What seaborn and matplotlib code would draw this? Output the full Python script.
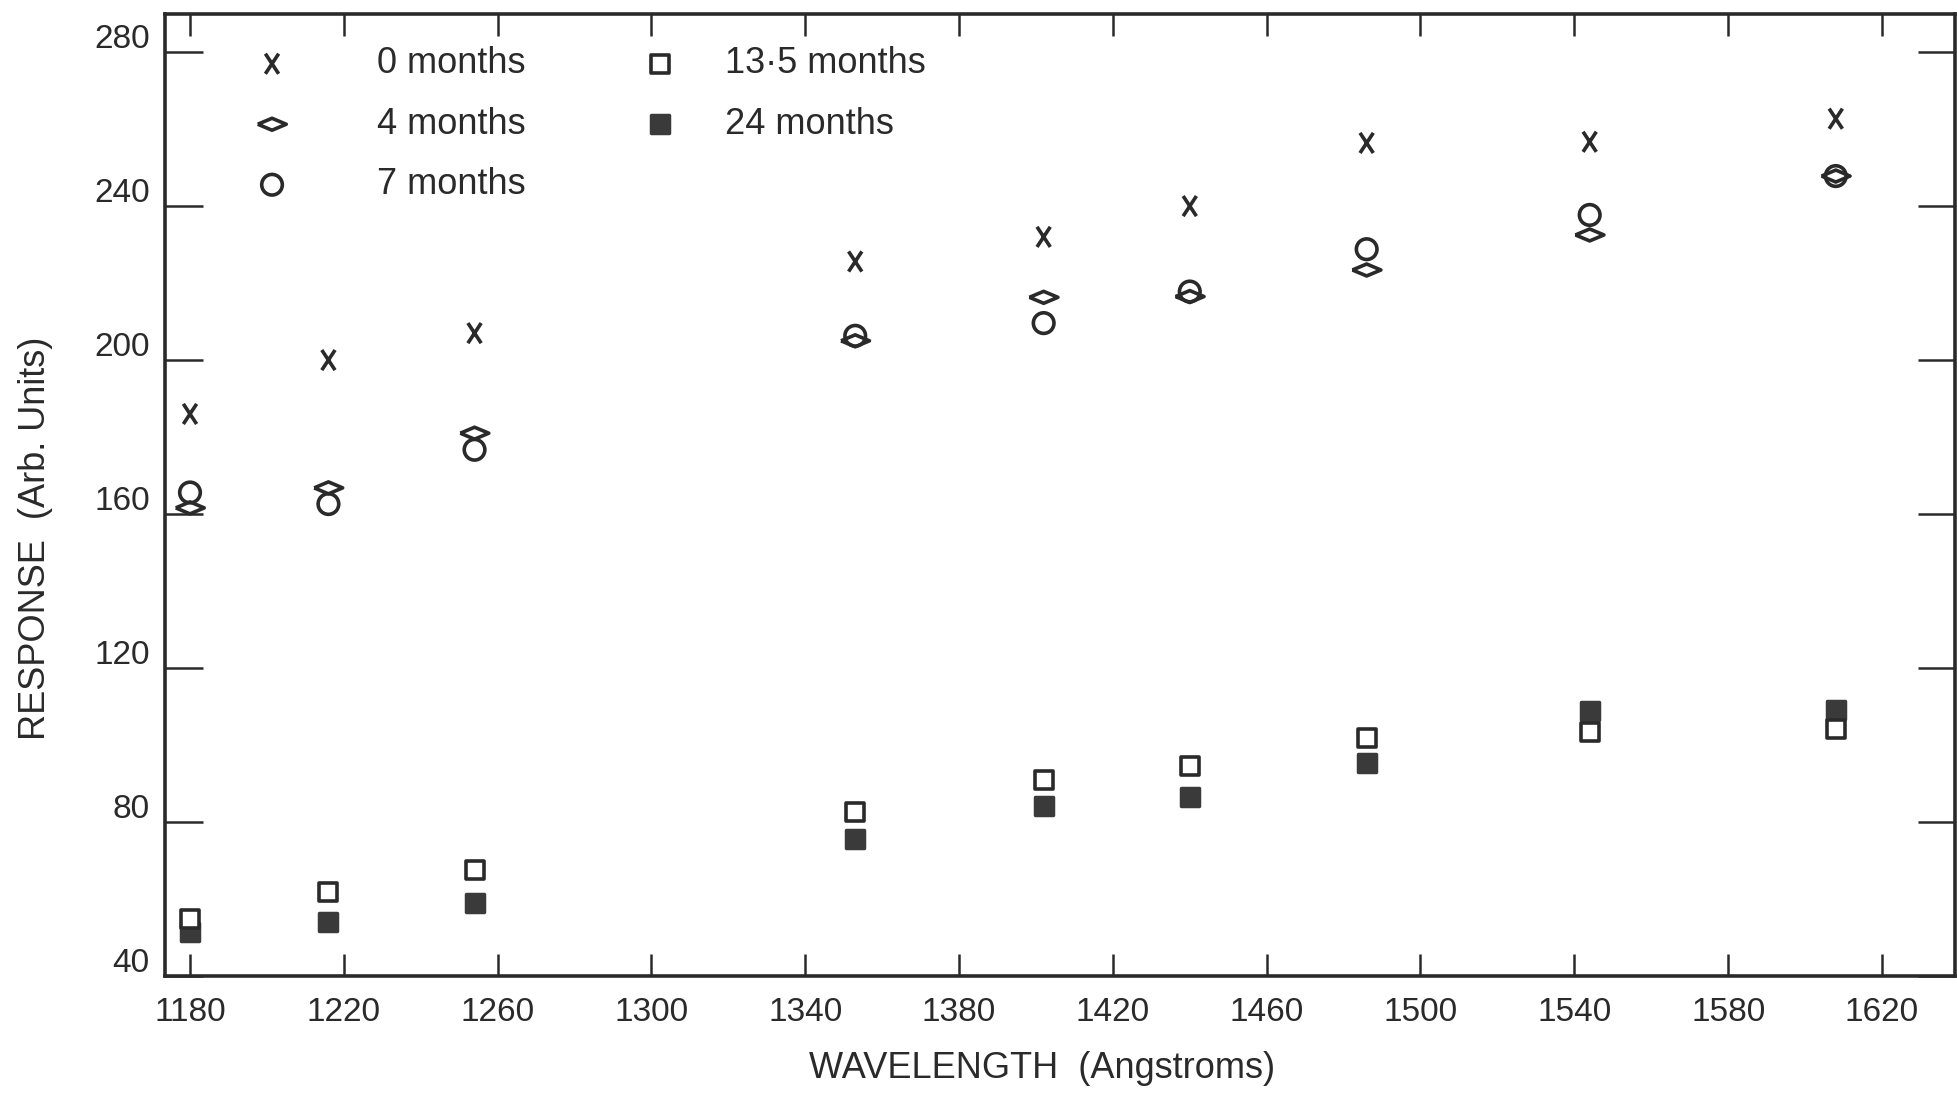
import numpy as np
import matplotlib
matplotlib.use("Agg")
import matplotlib.pyplot as plt
import matplotlib.transforms as mtransforms
from matplotlib.path import Path
import seaborn as sns

# valeurs
wavelength = [1180, 1216, 1254, 1353, 1402, 1440, 1486, 1544, 1608]
resp_0m = [186, 200, 207, 225.6, 232, 240, 256.4, 256.7, 262.7]
resp_4m = [161.6, 166.8, 181, 205, 216.3, 216.5, 223.4, 232.5, 247.8]
resp_7m = [165.6, 162.6, 176.7, 206.3, 209.6, 217.8, 228.8, 237.7, 247.8]
resp_13m = [54.8, 61.7, 67.6, 82.6, 90.8, 94.6, 101.9, 103.5, 104.1]
resp_24m = [51.4, 53.9, 58.9, 75.7, 84.2, 86.6, 95.4, 108.8, 109.1]

labels = ["0 months", "4 months", "7 months", "13\u00b75 months", "24 months"]
xticks = list(range(1180, 1621, 40))
yticks = list(range(40, 281, 40))

sns.set_theme(style="ticks")
plt.rcParams["font.family"] = ["Liberation Sans", "DejaVu Sans"]
ink = "#2a2a2a"

# formes de marqueurs
x_mark = Path([(-0.33, -0.5), (0.33, 0.5), (-0.33, 0.5), (0.33, -0.5)],
              [Path.MOVETO, Path.LINETO, Path.MOVETO, Path.LINETO])
lens_mark = [(-0.5, 0), (0, 0.21), (0.5, 0), (0, -0.21), (-0.5, 0)]

fig = plt.figure(figsize=(19.57, 10.96), dpi=100)
ax = fig.add_axes([165 / 1957, 1 - 976 / 1096, 1790 / 1957, 962.4 / 1096])

sns.scatterplot(x=wavelength, y=resp_0m, marker=x_mark, s=210, facecolor="none",
                edgecolor=ink, linewidth=2.6, label=labels[0], ax=ax, zorder=3)
sns.scatterplot(x=wavelength, y=resp_4m, marker=lens_mark, s=420, facecolor="none",
                edgecolor=ink, linewidth=2.6, label=labels[1], ax=ax, zorder=3)
sns.scatterplot(x=wavelength, y=resp_7m, marker="o", s=220, facecolor="none",
                edgecolor=ink, linewidth=2.6, label=labels[2], ax=ax, zorder=3)
sns.scatterplot(x=wavelength, y=resp_24m, marker="s", s=150, facecolor="#3a3a3a",
                edgecolor="#3a3a3a", linewidth=2.5, label=labels[4], ax=ax, zorder=3)
sns.scatterplot(x=wavelength, y=resp_13m, marker="s", s=150, facecolor="white",
                edgecolor=ink, linewidth=2.6, label=labels[3], ax=ax, zorder=4)

ax.set_xlim(1173.5, 1639)
ax.set_ylim(40, 290)
ax.set_xticks(xticks)
ax.set_yticks(yticks)

for sp in ax.spines.values():
    sp.set_visible(True)
    sp.set_linewidth(2.6)
    sp.set_color(ink)

ax.tick_params(axis="both", direction="in", top=True, right=True, colors=ink,
               width=1.8, labelsize=24, labelcolor=ink)
ax.tick_params(axis="x", length=16, pad=15)
ax.tick_params(axis="y", length=27, pad=11)

# les chiffres de l'axe y sont un peu au-dessus des graduations
shift = mtransforms.ScaledTranslation(0, 0.16, fig.dpi_scale_trans)
for lab in ax.get_yticklabels():
    lab.set_transform(lab.get_transform() + shift)

ax.set_xlabel("WAVELENGTH  (Angstroms)", fontsize=26, color=ink, va="center")
ax.set_ylabel("RESPONSE  (Arb. Units)", fontsize=26, color=ink, va="center")
ax.xaxis.set_label_coords(0.49, -0.0966)
ax.yaxis.set_label_coords(-0.0726, 0.455)

handles, labs = ax.get_legend_handles_labels()
h = dict(zip(labs, handles))
leg1 = ax.legend([h[l] for l in labels[:3]], labels[:3], loc="upper left",
                 bbox_to_anchor=(0.0497, 0.9661), frameon=False, fontsize=26,
                 borderpad=0, borderaxespad=0, handlelength=1.0,
                 handletextpad=2.41, labelspacing=0.706, labelcolor=ink)
ax.add_artist(leg1)
ax.legend([h[l] for l in labels[3:]], labels[3:], loc="upper left",
          bbox_to_anchor=(0.2665, 0.9661), frameon=False, fontsize=26,
          borderpad=0, borderaxespad=0, handlelength=1.0,
          handletextpad=1.29, labelspacing=0.706, labelcolor=ink)

fig.savefig("out.png", dpi=100, facecolor="white")
